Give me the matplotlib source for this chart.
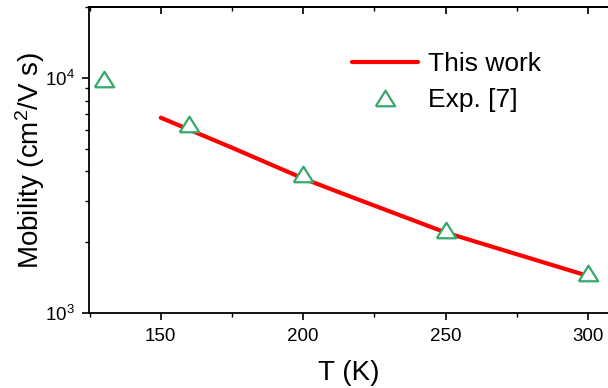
import matplotlib
matplotlib.use("Agg")
import matplotlib.pyplot as plt
from matplotlib.ticker import MultipleLocator, LogLocator, NullFormatter

plt.rcParams['font.family'] = ['Liberation Sans', 'DejaVu Sans']
plt.rcParams['mathtext.fontset'] = 'custom'
plt.rcParams['mathtext.rm'] = 'Liberation Sans'
plt.rcParams['mathtext.it'] = 'Liberation Sans:italic'
plt.rcParams['mathtext.default'] = 'regular'

# Data
model_T = [150, 175, 200, 213, 250, 300]
model_mu = [6760, 5040, 3730, 3245, 2198, 1437]
exp_T = [130, 160, 200, 250, 300]
exp_mu = [9890, 6370, 3880, 2245, 1483]

fig = plt.figure(figsize=(6.08, 3.88), dpi=100)
ax = fig.add_axes([0.1464, 0.1933, 0.8536, 0.789])

ax.plot(model_T, model_mu, color='#ff0000', lw=3.0, solid_capstyle='round',
        label='This work', zorder=2)
tri = [(-1, -0.8), (1, -0.8), (0, 0.8), (-1, -0.8)]
ax.plot(exp_T, exp_mu, ls='none', marker=tri, ms=14, mfc='white',
        mec='#35a86b', mew=1.6, label='Exp. [7]', zorder=3)

ax.set_yscale('log')
ax.set_xlim(124.8, 307)
ax.set_ylim(1000, 20000)

ax.xaxis.set_major_locator(MultipleLocator(50))
ax.xaxis.set_minor_locator(MultipleLocator(25))
ax.yaxis.set_major_locator(LogLocator(base=10))
ax.yaxis.set_minor_locator(LogLocator(base=10, subs=range(2, 10)))
ax.yaxis.set_minor_formatter(NullFormatter())

for s in ['left', 'bottom', 'top']:
    ax.spines[s].set_linewidth(1.3)
ax.spines['right'].set_visible(False)

ax.tick_params(which='major', direction='out', length=5, width=1.2,
               labelsize=13.5, pad=5)
ax.tick_params(axis='x', which='major', pad=5.5)
ax.tick_params(which='minor', direction='out', length=3, width=1.0)
ax.tick_params(axis='x', top=False)
ax.tick_params(axis='y', right=False)

sec = ax.secondary_xaxis('top')
sec.xaxis.set_major_locator(MultipleLocator(50))
sec.xaxis.set_minor_locator(MultipleLocator(25))
sec.tick_params(which='major', direction='in', length=5, width=1.2, labeltop=False)
sec.tick_params(which='minor', direction='in', length=3, width=1.0)
sec.spines['top'].set_linewidth(1.3)

ax.set_xlabel('T (K)', fontsize=20, labelpad=11)
ax.set_ylabel('Mobility (cm$^2$/V s)', fontsize=20, labelpad=-1)

leg = ax.legend(loc='upper right', bbox_to_anchor=(0.907, 0.913), frameon=False,
                fontsize=19, handlelength=2.5, handletextpad=0.4,
                labelspacing=0.45, borderaxespad=0.3)

fig.savefig('out.png', dpi=100)
